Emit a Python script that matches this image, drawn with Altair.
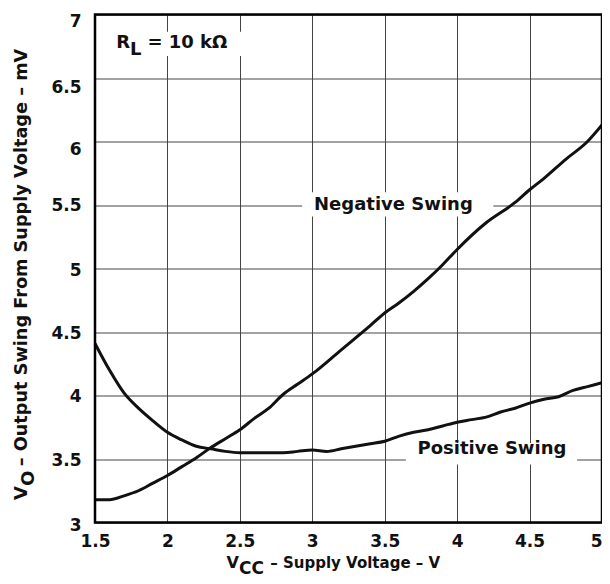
import altair as alt
import pandas as pd

# ---- data ----
neg_x = [1.5, 1.6, 1.7, 1.8, 1.9, 2.0, 2.1, 2.2, 2.3, 2.4, 2.5, 2.6, 2.7, 2.8, 2.9,
         3.0, 3.2, 3.4, 3.5, 3.6, 3.7, 3.8, 3.9, 4.0, 4.2, 4.4, 4.5, 4.6, 4.75, 4.9, 5.0]
neg_y = [3.18, 3.18, 3.21, 3.25, 3.31, 3.37, 3.44, 3.51, 3.59, 3.66, 3.73, 3.82, 3.90, 4.01, 4.09,
         4.17, 4.36, 4.55, 4.65, 4.73, 4.82, 4.92, 5.03, 5.15, 5.36, 5.52, 5.62, 5.71, 5.86, 6.00, 6.13]

pos_x = [1.5, 1.6, 1.7, 1.8, 1.9, 2.0, 2.1, 2.2, 2.3, 2.4, 2.5, 2.6, 2.7, 2.8, 2.9,
         3.0, 3.1, 3.2, 3.3, 3.4, 3.5, 3.6, 3.7, 3.8, 3.9, 4.0, 4.1, 4.2, 4.3, 4.4,
         4.5, 4.6, 4.7, 4.8, 4.9, 5.0]
pos_y = [4.41, 4.20, 4.02, 3.90, 3.80, 3.71, 3.65, 3.60, 3.58, 3.56, 3.55, 3.55, 3.55, 3.55, 3.56,
         3.57, 3.56, 3.58, 3.60, 3.62, 3.64, 3.68, 3.71, 3.73, 3.76, 3.79, 3.81, 3.83, 3.87, 3.90,
         3.94, 3.97, 3.99, 4.04, 4.07, 4.10]

x_ticks = [1.5, 2, 2.5, 3, 3.5, 4, 4.5, 5]
y_ticks = [3, 3.5, 4, 4.5, 5, 5.5, 6, 6.5, 7]
# small vertical shifts of the y tick labels as printed in the reference
y_label_shift = [3, 1, 0.5, 1, 1.5, 0, 7.5, 9, 7]

# annotation labels
label_text = ["Negative  Swing", "Positive  Swing"]
label_x = [3.56, 4.24]
label_y = [5.50, 3.575]
# white boxes behind labels (data units)
box_x = [2.93, 3.646, 1.55]
box_x2 = [4.25, 4.828, 2.56]
box_y = [5.41, 3.456, 6.673]
box_y2 = [5.60, 3.626, 6.865]

FONT = "DejaVu Sans"
INK = "#111111"
GRID = "#444444"

lines_df = pd.DataFrame({
    "x": neg_x + pos_x,
    "y": neg_y + pos_y,
    "series": ["Negative"] * len(neg_x) + ["Positive"] * len(pos_x),
})
labels_df = pd.DataFrame({"text": label_text, "x": label_x, "y": label_y})
boxes_df = pd.DataFrame({"x": box_x, "x2": box_x2, "y": box_y, "y2": box_y2})

xs = alt.Scale(domain=[1.5, 5], nice=False, zero=False)
ys = alt.Scale(domain=[3, 7], nice=False, zero=False)

y_offset_cond = {
    "condition": [{"test": f"datum.value == {v}", "value": s}
                  for v, s in zip(y_ticks, y_label_shift)],
    "value": 0,
}

xaxis = alt.Axis(values=x_ticks, labelExpr="datum.value", title=None, domain=False,
                 ticks=False, grid=True, gridColor=GRID, gridWidth=1,
                 labelFont=FONT, labelFontWeight="bold", labelFontSize=17,
                 labelColor=INK, labelPadding=11,
                 labelAlign=alt.condition("datum.value == 5", alt.value("right"), alt.value("center")))
yaxis = alt.Axis(values=y_ticks, labelExpr="datum.value", title=None, domain=False,
                 ticks=False, grid=True, gridColor=GRID, gridWidth=1,
                 labelFont=FONT, labelFontWeight="bold", labelFontSize=17,
                 labelColor=INK, labelPadding=14, labelOffset=y_offset_cond)

base = alt.Chart(lines_df).mark_line(color=INK, strokeWidth=3, interpolate="monotone").encode(
    x=alt.X("x:Q", scale=xs, axis=xaxis),
    y=alt.Y("y:Q", scale=ys, axis=yaxis),
    detail="series:N",
)

boxes = alt.Chart(boxes_df).mark_rect(fill="white", strokeWidth=0).encode(
    x=alt.X("x:Q", scale=xs), x2="x2:Q",
    y=alt.Y("y:Q", scale=ys), y2="y2:Q",
)

labels = alt.Chart(labels_df).mark_text(
    font=FONT, fontWeight="bold", fontSize=18, color=INK, align="center", baseline="middle"
).encode(x=alt.X("x:Q", scale=xs), y=alt.Y("y:Q", scale=ys), text="text:N")

# R_L = 10 kΩ annotation pieces
rl_df = pd.DataFrame({
    "text": ["R", "L", "= 10 kΩ"],
    "x": [1.646, 1.742, 1.862],
    "y": [6.734, 6.681, 6.734],
})
rl = alt.Chart(rl_df).mark_text(
    font=FONT, fontWeight="bold", fontSize=18, color=INK, align="left", baseline="alphabetic"
).encode(x=alt.X("x:Q", scale=xs), y=alt.Y("y:Q", scale=ys), text="text:N")

frame = alt.Chart(pd.DataFrame({"a": [0]})).mark_rect(
    fill="transparent", stroke="black", strokeWidth=2.5
).encode(x=alt.datum(1.5, scale=xs), x2=alt.datum(5), y=alt.datum(3, scale=ys), y2=alt.datum(7))

def piece(text, px, py, size, angle=0):
    kw = dict(font=FONT, fontWeight="bold", fontSize=size, color=INK,
              align="left", baseline="alphabetic")
    if angle:
        kw["angle"] = angle
    return alt.Chart(pd.DataFrame({"t": [text]})).mark_text(**kw).encode(
        text="t:N", x=alt.value(px), y=alt.value(py))

titles = [
    piece("V", 131.5, 553.5, 16),
    piece("CC", 143.9, 559.0, 17),
    piece(" – Supply Voltage – V", 175.3, 553.5, 15),
    piece("V", -68.0, 485.5, 18, 270),
    piece("O", -61.0, 471.6, 18, 270),
    piece(" – Output Swing From Supply Voltage – mV", -68.0, 451.8, 17.7, 270),
]

chart = alt.layer(boxes, base, labels, rl, frame, *titles).properties(
    width=507, height=508,
    autosize=alt.AutoSizeParams(type="none"),
    padding={"left": 87, "top": 6.5, "right": 0, "bottom": 53.5},
).configure_view(stroke=None).configure(background="white")

chart.save("out.html", embed_options={"renderer": "svg", "actions": False})
